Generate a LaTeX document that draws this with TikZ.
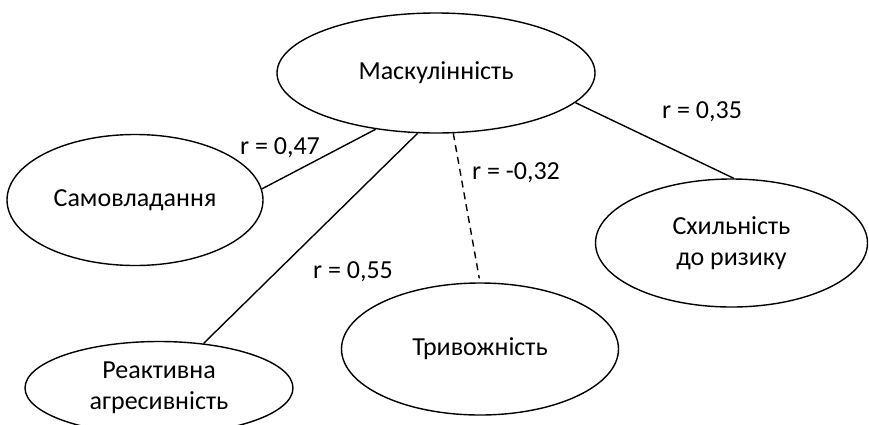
\documentclass[tikz,border=0pt]{standalone}
\usepackage{fontspec}
\setmainfont{Carlito}
\usetikzlibrary{shapes.geometric}
\begin{document}
\begin{tikzpicture}[x=1pt,y=-1pt,
  oval/.style={draw,ellipse,line width=1.4pt,inner sep=0pt,align=center,
    font=\fontsize{26}{31}\selectfont},
  conn/.style={line width=1.4pt},
  dconn/.style={line width=1.4pt,dash pattern=on 7pt off 5pt},
  rlab/.style={inner sep=0pt,font=\fontsize{26}{31}\selectfont}]
\useasboundingbox (0,0) rectangle (869,424);
\node[oval,minimum width=318pt,minimum height=120pt] (mask) at (436,73) {\raisebox{-4pt}{Маскулінність}};
\node[oval,minimum width=256pt,minimum height=131pt] (sam) at (135,200) {\raisebox{-4pt}{Самовладання}};
\node[oval,minimum width=272pt,minimum height=128pt] (sx) at (731.5,243) {Схильність\\до ризику};
\node[oval,minimum width=277pt,minimum height=132pt] (trv) at (480,349) {\raisebox{-3pt}{Тривожність}};
\node[oval,minimum width=268pt,minimum height=93pt] (rea) at (159,388) {Реактивна\\агресивність};
\draw[conn] (mask.223.5) -- (sam.5.5);
\draw[conn] (mask.253.3) -- (rea.45.6);
\draw[dconn,shorten >=4pt] (mask.286) -- (trv.north);
\draw[conn] (mask.348.2) -- (sx.88);
\node[rlab] (l1) at (280,148) {r = 0,47};
\node[rlab] (l2) at (353,272) {r = 0,55};
\node[rlab] (l3) at (516,173) {r = -0,32};
\node[rlab] (l4) at (702,112) {r = 0,35};
\end{tikzpicture}
\end{document}
